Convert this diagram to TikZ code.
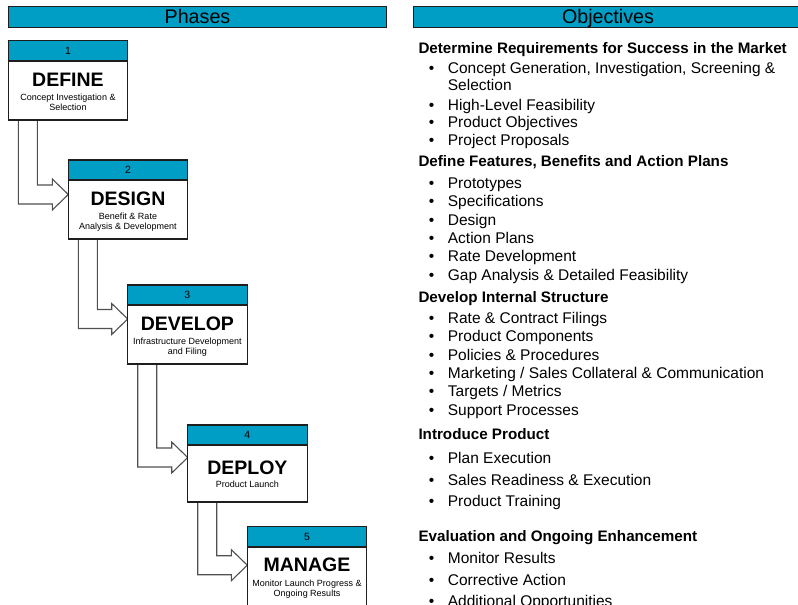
\documentclass[tikz,border=0pt]{standalone}
\usepackage{fontspec}
\setmainfont{Liberation Sans}
\usetikzlibrary{calc,backgrounds}

\definecolor{hdrblue}{RGB}{0,158,196}
\definecolor{arrowgray}{RGB}{80,80,80}
\definecolor{framedark}{RGB}{30,30,30}

\tikzset{
  phasebox/.style={draw=framedark, line width=1.2pt, fill=white, minimum width=119.4pt,
                   inner sep=0pt, outer sep=0pt, anchor=north west},
  bar/.style={draw=framedark, line width=0.9pt, fill=hdrblue, inner sep=0pt,
              outer sep=0pt, anchor=north west, minimum height=21pt},
  numtxt/.style={font=\fontsize{10.5}{11}\selectfont, inner sep=0pt, anchor=base},
  titletxt/.style={font=\fontsize{19.5}{20}\selectfont\bfseries, inner sep=0pt, anchor=base},
  subtxt/.style={font=\fontsize{9}{10}\selectfont, inner sep=0pt, anchor=base, align=center},
  bartxt/.style={font=\fontsize{19.7}{20}\selectfont, inner sep=0pt, anchor=base},
  headtxt/.style={font=\fontsize{15.2}{16}\selectfont\bfseries, inner sep=0pt, anchor=base west},
  itemtxt/.style={font=\fontsize{15.5}{17}\selectfont, inner sep=0pt, anchor=base west},
  dottxt/.style={font=\fontsize{15.5}{17}\selectfont, inner sep=0pt, anchor=base},
  flow/.style={draw=arrowgray, line width=1.1pt, fill=white, line join=miter},
}

% phase box: id, x, y, height, title, title baseline, subtitle, baseline of last subtitle line
\newcommand{\phasestep}[8]{%
  \node[phasebox, minimum height=#4] (b#1) at (#2,#3) {};
  \fill[hdrblue] (b#1.north west) rectangle ($(b#1.north east)+(0,20)$);
  \draw[framedark, line width=1.2pt] (b#1.north west) rectangle (b#1.south east);
  \draw[framedark, line width=1.8pt] ($(b#1.north west)+(0,20)$) -- ($(b#1.north east)+(0,20)$);
  \node[numtxt] (n#1) at ($(b#1.north)+(0,13.3)$) {#1};
  \node[titletxt] (t#1) at ($(b#1.north)+(0,#6)$) {#5};
  \node[subtxt] (s#1) at ($(b#1.north)+(0,#8)$) {#7};
}

% hollow block arrow from the bottom of one box into the left side of the next
\newcommand{\flowarrow}[3]{%
  \coordinate (tip#1#2) at ($(b#2.north west)+(0,#3)$);
  \filldraw[flow] ($(b#1.south west)+(10,0)$) |- ($(tip#1#2)+(-16,9.5)$)
     -- ++(0,6) -- (tip#1#2) -- ($(tip#1#2)+(-16,-15.5)$) -- ++(0,6)
     -| ($(b#1.south west)+(29,0)$);
}

% objective list helpers
\newcommand{\objhead}[3]{\node[headtxt] (#1) at (418.3,#2) {#3};}
\newcommand{\objitem}[3]{%
  \node[dottxt] (#1d) at (431.5,#2) {•};
  \node[itemtxt] (#1) at (447.7,#2) {#3};}

\begin{document}
\begin{tikzpicture}[x=1pt,y=-1pt]
\useasboundingbox (0,0) rectangle (798,605);
\clip (0,0) rectangle (798,605);

% column headers
\node[bar, minimum width=378.4pt] (phbar) at (8.3,6) {};
\node[bartxt] (phtxt) at ($(phbar.north)+(0,17.3)$) {Phases};
\node[bar, minimum width=385pt] (obbar) at (413,6) {};
\node[bartxt] (obtxt) at (608,23.3) {Objectives};

% phases
\phasestep{1}{8.3}{40.7}{79.3}{DEFINE}{45.3}{Concept Investigation \&\\Selection}{70}
\phasestep{2}{68.3}{160}{79}{DESIGN}{45}{Benefit \& Rate\\Analysis \& Development}{69}
\phasestep{3}{127.7}{285}{79}{DEVELOP}{45}{Infrastructure Development\\and Filing}{69}
\phasestep{4}{187.7}{425}{77}{DEPLOY}{49}{Product Launch}{62.4}
\phasestep{5}{247.3}{526.7}{95}{MANAGE}{45}{Monitor Launch Progress \&\\Ongoing Results}{69.7}

% connectors between phases
\begin{scope}[on background layer]
  \fill[white] (0,0) rectangle (798,605);
  \flowarrow{1}{2}{34.5}
  \flowarrow{2}{3}{34}
  \flowarrow{3}{4}{32.5}
  \flowarrow{4}{5}{38.5}
\end{scope}

% objectives
\objhead{h1}{53.3}{Determine Requirements for Success in the Market}
\objitem{a1}{73.3}{Concept Generation, Investigation, Screening \&}
\node[itemtxt] (a1x) at (447.7,90.7) {Selection};
\objitem{a2}{110}{High-Level Feasibility}
\objitem{a3}{127.3}{Product Objectives}
\objitem{a4}{145.7}{Project Proposals}

\objhead{h2}{166}{Define Features, Benefits and Action Plans}
\objitem{c1}{188.3}{Prototypes}
\objitem{c2}{206.7}{Specifications}
\objitem{c3}{225}{Design}
\objitem{c4}{243.3}{Action Plans}
\objitem{c5}{261.5}{Rate Development}
\objitem{c6}{280}{Gap Analysis \& Detailed Feasibility}

\objhead{h3}{302.3}{Develop Internal Structure}
\objitem{e1}{323.3}{Rate \& Contract Filings}
\objitem{e2}{341.5}{Product Components}
\objitem{e3}{360}{Policies \& Procedures}
\objitem{e4}{378.3}{Marketing / Sales Collateral \& Communication}
\objitem{e5}{396.7}{Targets / Metrics}
\objitem{e6}{415}{Support Processes}

\objhead{h4}{439}{Introduce Product}
\objitem{g1}{463.3}{Plan Execution}
\objitem{g2}{485}{Sales Readiness \& Execution}
\objitem{g3}{506.7}{Product Training}

\objhead{h5}{541}{Evaluation and Ongoing Enhancement}
\objitem{k1}{563.3}{Monitor Results}
\objitem{k2}{585}{Corrective Action}
\objitem{k3}{606.7}{Additional Opportunities}
\end{tikzpicture}
\end{document}
